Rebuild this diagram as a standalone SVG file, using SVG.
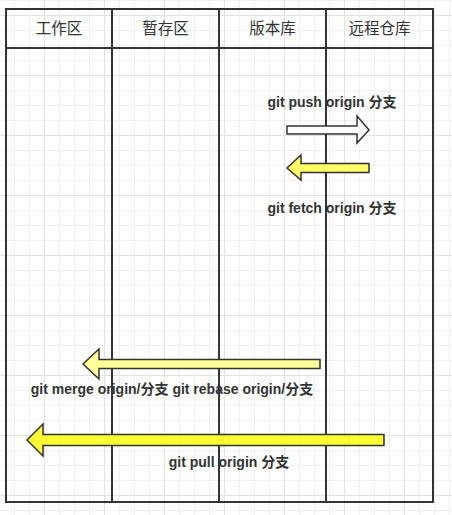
<svg xmlns="http://www.w3.org/2000/svg" width="452" height="515" viewBox="0 0 452 515">
<style>
.lane{fill:none;stroke:#333;stroke-width:2}
.hdr{font-family:"Noto Sans CJK SC","Liberation Sans",sans-serif;font-size:15.5px;fill:#333;text-anchor:middle}
.lbl{font-family:"Liberation Sans","Noto Sans CJK SC",sans-serif;font-size:14px;font-weight:bold;fill:#333;text-anchor:middle}
.arr{stroke:#333;stroke-width:1.5;stroke-linejoin:miter}
</style>
<defs>
<pattern id="grid" patternUnits="userSpaceOnUse" x="44" y="15" width="60" height="60">
<path d="M15.5 0V60M30.5 0V60M45.5 0V60M0 15.5H60M0 30.5H60M0 45.5H60" stroke="#f0f0f0" stroke-width="1" fill="none"/>
<path d="M0.5 0V60M0 0.5H60" stroke="#e2e2e2" stroke-width="1" fill="none"/>
</pattern>
</defs>
<rect width="452" height="515" fill="#fff"/>
<rect width="452" height="515" fill="url(#grid)"/>
<g id="lane-workspace">
<rect class="lane" x="6" y="9" width="106" height="493" fill="#fff"/>
<line class="lane" x1="6" y1="48" x2="112" y2="48"/>
<text class="hdr" x="59" y="34">工作区</text>
</g>
<g id="lane-stage">
<rect class="lane" x="112" y="9" width="107" height="493"/>
<line class="lane" x1="112" y1="48" x2="219" y2="48"/>
<text class="hdr" x="165.5" y="34">暂存区</text>
</g>
<g id="lane-repo">
<rect class="lane" x="219" y="9" width="107" height="493"/>
<line class="lane" x1="219" y1="48" x2="326" y2="48"/>
<text class="hdr" x="272.5" y="34">版本库</text>
</g>
<g id="lane-remote">
<rect class="lane" x="326" y="9" width="107" height="493"/>
<line class="lane" x1="326" y1="48" x2="433" y2="48"/>
<text class="hdr" x="379.5" y="34">远程仓库</text>
</g>
<g id="connectors">
<g id="push">
<polygon class="arr" fill="#fff" points="287,126 357,126 357,116 369,130 357,143 357,134 287,134"/>
<text class="lbl" x="332" y="107">git push origin 分支</text>
</g>
<g id="fetch">
<polygon class="arr" fill="#ffff66" points="287,168 301,155 301,163.5 369,163.5 369,172.5 301,172.5 301,180"/>
<text class="lbl" x="332" y="213">git fetch origin 分支</text>
</g>
<g id="merge">
<polygon class="arr" fill="#ffff99" points="83,364 99,349 99,359.5 320,359.5 320,368.5 99,368.5 99,379"/>
<text class="lbl" x="172" y="394">git merge origin/分支 git rebase origin/分支</text>
</g>
<g id="pull">
<polygon class="arr" fill="#ffff33" points="27,440 43,424 43,434.5 384,434.5 384,445.5 43,445.5 43,456"/>
<text class="lbl" x="229" y="467">git pull origin 分支</text>
</g>
</g>
</svg>
